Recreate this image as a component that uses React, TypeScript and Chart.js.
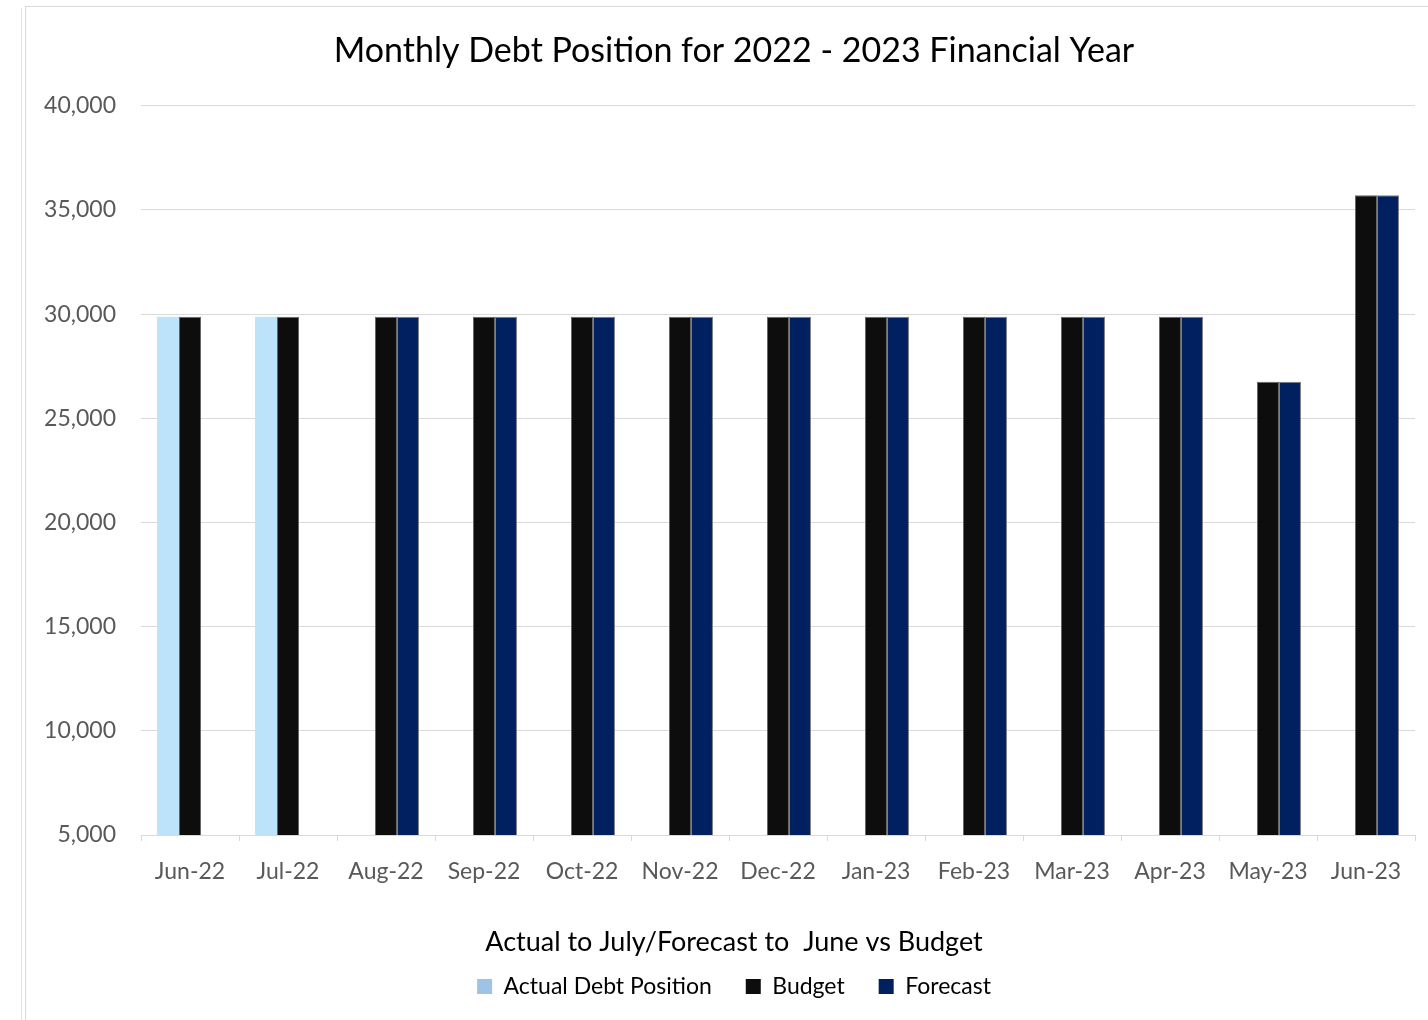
import React, { useEffect, useRef } from 'react';
import { Chart, registerables } from 'chart.js';

Chart.register(...registerables);

const months = ['Jun-22', 'Jul-22', 'Aug-22', 'Sep-22', 'Oct-22', 'Nov-22', 'Dec-22', 'Jan-23', 'Feb-23', 'Mar-23', 'Apr-23', 'May-23', 'Jun-23'];
const actualDebt = [29870, 29870, null, null, null, null, null, null, null, null, null, null, null];
const budget = [29870, 29870, 29870, 29870, 29870, 29870, 29870, 29870, 29870, 29870, 29870, 26760, 35710];
const forecast = [null, null, 29870, 29870, 29870, 29870, 29870, 29870, 29870, 29870, 29870, 26760, 35710];
const seriesNames = ['Actual Debt Position', 'Budget', 'Forecast'];
const chartTitle = 'Monthly Debt Position for 2022 - 2023 Financial Year';
const xAxisTitle = 'Actual to July/Forecast to  June vs Budget';
const yMin = 5000;
const yMax = 40000;
const yStep = 5000;

const FONT = 'Lato, "Open Sans", sans-serif';
const barColors = ['#BDE3FB', '#0D0D0D', '#002060'];
const legendColors = ['#9DC3E6', '#0D0D0D', '#002060'];

export default function App() {
  const ref = useRef<HTMLCanvasElement | null>(null);

  useEffect(() => {
    if (!ref.current) return;
    const chart = new Chart(ref.current, {
      type: 'bar',
      data: {
        labels: months,
        datasets: [
          { label: seriesNames[0], data: actualDebt, backgroundColor: barColors[0], borderWidth: 0 },
          { label: seriesNames[1], data: budget, backgroundColor: barColors[1], borderColor: '#666666', borderWidth: 1 },
          { label: seriesNames[2], data: forecast, backgroundColor: barColors[2], borderColor: '#7f7f7f', borderWidth: 1 },
        ],
      },
      options: {
        animation: false,
        responsive: true,
        maintainAspectRatio: false,
        layout: { padding: { left: 0, right: 0, top: 0, bottom: 4 } },
        datasets: { bar: { categoryPercentage: 0.673, barPercentage: 1.0 } },
        plugins: {
          tooltip: { enabled: false },
          title: {
            display: true,
            text: chartTitle,
            color: '#000',
            font: { family: FONT, size: 34, weight: 'normal' },
            padding: { top: 24, bottom: 34 },
          },
          legend: {
            display: true,
            position: 'bottom',
            title: {
              display: true,
              text: xAxisTitle,
              position: 'center',
              color: '#000',
              font: { family: FONT, size: 27 },
              padding: { top: 26, bottom: -20 },
            },
            labels: {
              color: '#000',
              font: { family: FONT, size: 23 },
              boxWidth: 15,
              boxHeight: 15,
              padding: 34,
              generateLabels: (c: any) =>
                c.data.datasets.map((ds: any, i: number) => ({
                  text: ds.label,
                  fillStyle: legendColors[i],
                  strokeStyle: legendColors[i],
                  lineWidth: 0,
                  hidden: false,
                  datasetIndex: i,
                  fontColor: '#000',
                })),
            },
          },
        },
        scales: {
          x: {
            grid: {
              display: true,
              drawOnChartArea: false,
              drawTicks: true,
              tickLength: 6,
              color: '#d9d9d9',
              offset: true,
            },
            border: { display: true, color: '#d9d9d9', width: 1 },
            ticks: {
              color: '#595959',
              font: { family: FONT, size: 23 },
              padding: 17,
              maxRotation: 0,
              autoSkip: false,
            },
          },
          y: {
            min: yMin,
            max: yMax,
            afterFit: (scale: any) => {
              scale.width = 115;
            },
            grid: { color: '#d9d9d9', drawTicks: false, lineWidth: 1 },
            border: { display: false },
            ticks: {
              stepSize: yStep,
              color: '#595959',
              font: { family: FONT, size: 23 },
              padding: 25,
              callback: (v: any) => Number(v).toLocaleString('en-US'),
            },
          },
          yRightSpacer: {
            type: 'linear',
            position: 'right',
            display: true,
            min: yMin,
            max: yMax,
            afterFit: (scale: any) => {
              scale.width = 27;
            },
            grid: { display: false, drawOnChartArea: false },
            border: { display: false },
            ticks: { display: false },
          },
        },
      },
    });
    return () => chart.destroy();
  }, []);

  return (
    <div style={{ position: 'fixed', left: 0, top: 0, width: 1428, height: 1020, overflow: 'hidden', background: '#fff' }}>
      <div style={{ position: 'absolute', left: 21, top: 8, width: 1, height: 1020, background: '#e3e3e3' }} />
      <div style={{ position: 'absolute', left: 25, top: 6, width: 1440, height: 1040, borderLeft: '1px solid #d9d9d9', borderTop: '1px solid #d9d9d9', boxSizing: 'border-box' }} />
      <div style={{ position: 'absolute', left: 26, top: 7, width: 1416, height: 1005 }}>
        <canvas ref={ref} />
      </div>
    </div>
  );
}
